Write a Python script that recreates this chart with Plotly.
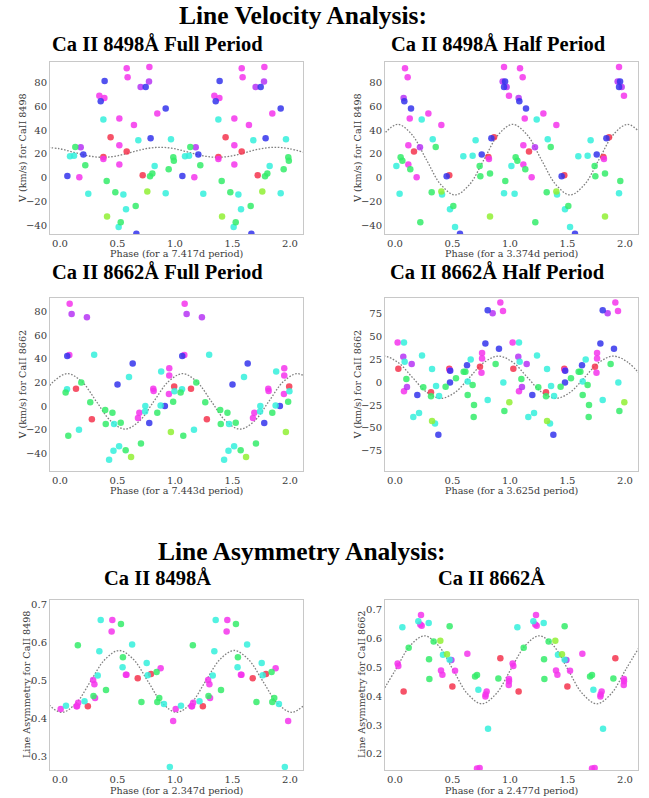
import plotly.graph_objects as go

# ---------------- data (phase in [0,1), value, colour group) ----------------
# Panel 1: Ca II 8498 velocity, full period (7.417 d)
p1_phase = [0.064, 0.087, 0.122, 0.133, 0.18, 0.168, 0.203, 0.22, 0.246, 0.342, 0.354, 0.388, 0.386,
            0.377, 0.377, 0.377, 0.406, 0.409, 0.44, 0.481, 0.516, 0.516, 0.516, 0.51, 0.528, 0.551,
            0.58, 0.588, 0.58, 0.574, 0.643, 0.658, 0.664, 0.681, 0.701, 0.745, 0.719, 0.777, 0.774,
            0.788, 0.759, 0.783, 0.803, 0.823, 0.846, 0.945, 0.919, 0.919, 0.965, 0.985, 0.99]
p1_v = [1.5, 18.1, 18.6, 25.9, 25.6, 0.5, 19.5, 10.5, -13.2, 68.8, 64.1, 81.1, 66.9,
        48.8, 17.5, 15.8, -2.6, -32.4, 34, -12.1, 49.6, 27.3, 11.1, -41.1, -37.2, -14,
        91.7, 84.2, 22, -26.3, 44.3, -23.5, -46.7, 31.5, 76.1, 76.1, 2.2, 92.8, 80.6,
        33.1, -11.5, 1.3, 3.6, 10, 53.8, 7.2, 58, -12.9, 32.3, 17.2, 14.4]
p1_c = ["B", "C", "C", "G", "P", "M", "B", "G", "C", "M", "B", "B", "M",
        "C", "R", "M", "G", "Y", "R", "G", "M", "M", "M", "C", "G", "C",
        "M", "M", "R", "C", "M", "G", "B", "C", "P", "B", "R", "M", "P",
        "B", "Y", "G", "G", "C", "M", "G", "B", "C", "C", "G", "G"]

# Panel 2: Ca II 8498 velocity, half period (3.374 d)
p2_phase = [0.012, 0.04, 0.049, 0.064, 0.087, 0.11, 0.075, 0.081, 0.116, 0.116, 0.128, 0.139, 0.133,
            0.165, 0.188, 0.217, 0.22, 0.232, 0.29, 0.319, 0.328, 0.354, 0.403, 0.409, 0.403, 0.449,
            0.472, 0.478, 0.507, 0.522, 0.565, 0.594, 0.675, 0.701, 0.736, 0.742, 0.754, 0.812, 0.817,
            0.826, 0.826, 0.838, 0.861, 0.936, 0.948, 0.957, 0.948, 0.971, 0.991, 0.948, 0.959]
p2_v = [10, -13.2, 17.2, 14.4, 91.7, 84.2, 66.9, 64.1, 27.3, 11.1, 49.6, 58, 7.2,
        22, 0.5, 25.6, -37.2, 48.8, 53.8, -12.1, 32.3, 25.9, -11.5, -14, 44.3, 1.3,
        2.2, -26.3, -23.5, -41.1, -46.7, 18.1, 18.6, 31.5, 10, 1.3, 19.5, 17.5, 15.8,
        3.6, -32.4, 33.1, 34, 80.6, 92.8, 80.6, 76.1, 76.1, 68.8, -12.9, -2.6]
p2_c = ["C", "C", "G", "G", "M", "M", "P", "B", "M", "M", "M", "B", "G",
        "R", "M", "P", "G", "C", "M", "G", "C", "G", "Y", "C", "M", "B",
        "R", "C", "G", "C", "B", "C", "C", "C", "G", "G", "B", "R", "M",
        "G", "Y", "B", "R", "P", "M", "B", "B", "P", "M", "C", "G"]

# Panel 3: Ca II 8662 velocity, full period (7.443 d)
p3_phase = [0.084, 0.101, 0.234, 0.063, 0.081, 0.297, 0.061, 0.049, 0.139, 0.185, 0.263, 0.277, 0.072,
            0.165, 0.632, 0.6, 0.5, 0.393, 0.456, 0.398, 0.47, 0.528, 0.514, 0.465, 0.427, 0.571,
            0.618, 0.704, 0.69, 0.678, 0.742, 0.74, 0.776, 0.811, 0.814, 0.88, 0.846, 0.875, 0.912,
            0.95, 0.95, 0.993, 0.947, 0.984, 0.964, 0.995]
p3_v = [86.8, 78, 75.2, 42.4, 43.3, 43.6, 14.2, 11.6, 14.7, 20.1, 3.2, -11.2, -25.1,
        -20, 36.2, 24.6, 18.4, -3.3, -5.6, -15.2, -15.2, -14.1, -34.1, -37.8, -45.4, -37.5,
        -43.2, -31.6, -5.6, -10.1, 0.0, -4.5, -14.4, 14.7, 12.8, 29.4, -5.6, 0.6, 0.0,
        32, 26, 16.5, 10.2, 3.7, -22, 12.5]
p3_c = ["M", "P", "P", "B", "M", "C", "C", "G", "R", "G", "G", "R", "G",
        "C", "B", "C", "B", "G", "G", "G", "C", "G", "C", "C", "C", "G",
        "Y", "G", "M", "M", "C", "C", "B", "M", "M", "C", "G", "C", "B",
        "M", "M", "R", "M", "G", "Y", "C"]

# Panel 4: Ca II 8662 velocity, half period (3.625 d)
p4_phase = [0.023, 0.078, 0.029, 0.072, 0.084, 0.145, 0.099, 0.104, 0.078, 0.235, 0.194, 0.246, 0.159,
            0.209, 0.322, 0.313, 0.313, 0.357, 0.383, 0.322, 0.348, 0.377, 0.44, 0.472, 0.476, 0.48,
            0.478, 0.53, 0.597, 0.612, 0.626, 0.658, 0.632, 0.675, 0.632, 0.687, 0.684, 0.739, 0.757,
            0.757, 0.752, 0.786, 0.806, 0.806, 0.849, 0.916, 0.939, 0.904, 0.875, 0.942, 0.994, 0.951]
p4_v = [43.4, 43.4, 14.7, 27.8, 22.4, 19.8, 3.5, -5.2, -10, 29.2, -14, -5.6, -38,
        -33.6, 14.4, -11, -15.4, -4.2, -15, -42.3, -45.2, -57.5, -4.9, 14.7, 13, 12.5,
        -0.2, 4.2, 11.5, 11.5, 18.4, 24.9, 0.9, -3, -14, -24.8, -38, 16.9, 31.8,
        26, 10.4, 42.3, -19.4, 78.6, 75.4, 87, 77.9, 36.5, 19.8, -0.2, -22, -31.4]
p4_c = ["M", "C", "R", "P", "C", "P", "G", "P", "M", "C", "B", "G", "C",
        "C", "C", "R", "G", "C", "C", "Y", "C", "B", "G", "R", "M", "B",
        "B", "G", "G", "G", "B", "C", "C", "G", "G", "G", "G", "R", "M",
        "M", "M", "B", "C", "B", "P", "M", "M", "B", "G", "C", "Y", "G"]

# Panel 5: Ca II 8498 line asymmetry (2.347 d)
p5_phase = [0.006, 0.052, 0.144, 0.148, 0.158, 0.155, 0.213, 0.242, 0.288, 0.299, 0.291, 0.305, 0.328,
            0.342, 0.354, 0.4, 0.455, 0.449, 0.53, 0.547, 0.544, 0.573, 0.578, 0.627, 0.676, 0.708,
            0.754, 0.763, 0.791, 0.84, 0.875, 0.863, 0.846, 0.904, 0.955, 0.984]
p5_v = [0.426, 0.434, 0.433, 0.433, 0.442, 0.594, 0.446, 0.433, 0.502, 0.491, 0.46, 0.455, 0.514,
        0.578, 0.66, 0.476, 0.66, 0.63, 0.65, 0.562, 0.536, 0.516, 0.516, 0.596, 0.507, 0.444,
        0.547, 0.515, 0.518, 0.523, 0.533, 0.455, 0.444, 0.439, 0.273, 0.394]
p5_c = ["M", "C", "M", "M", "M", "G", "C", "R", "M", "M", "G", "M", "C",
        "C", "C", "G", "M", "M", "G", "G", "C", "M", "M", "C", "R", "G",
        "C", "C", "R", "G", "M", "G", "G", "C", "C", "M"]

# Panel 6: Ca II 8662 line asymmetry (2.477 d)
p6_phase = [0.064, 0.023, 0.029, 0.075, 0.119, 0.203, 0.226, 0.22, 0.232, 0.293, 0.296, 0.299, 0.336,
            0.394, 0.417, 0.452, 0.49, 0.475, 0.475, 0.4, 0.412, 0.522, 0.499, 0.629, 0.696, 0.713,
            0.725, 0.797, 0.788, 0.786, 0.809, 0.713, 0.736, 0.899, 0.916, 0.991, 0.991, 0.989]
p6_v = [0.64, 0.514, 0.505, 0.417, 0.569, 0.661, 0.682, 0.649, 0.645, 0.655, 0.529, 0.46, 0.59,
        0.593, 0.544, 0.546, 0.526, 0.527, 0.643, 0.49, 0.475, 0.489, 0.434, 0.548, 0.469, 0.474,
        0.423, 0.417, 0.406, 0.399, 0.287, 0.149, 0.151, 0.462, 0.532, 0.46, 0.452, 0.439]
p6_c = ["C", "M", "M", "R", "G", "C", "M", "M", "M", "C", "G", "G", "G",
        "Y", "C", "Y", "P", "C", "G", "M", "M", "M", "R", "M", "G", "G",
        "C", "M", "M", "M", "C", "M", "M", "G", "R", "M", "M", "M"]

# Dotted fit curves (values at regular phase steps)
c1_x = [-0.13, -0.005, 0.12, 0.245, 0.37, 0.495, 0.62, 0.745, 0.87, 0.995, 1.12, 1.245, 1.37,
        1.495, 1.62, 1.745, 1.87, 1.995, 2.12]
c1_y = [25.6, 24.4, 21.4, 18.4, 17.2, 18.4, 21.4, 24.4, 25.6, 24.4, 21.4, 18.4, 17.2,
        18.4, 21.4, 24.4, 25.6, 24.4, 21.4]
c2_x = [-0.102, 0.023, 0.148, 0.273, 0.398, 0.523, 0.648, 0.773, 0.898, 1.023, 1.148, 1.273, 1.398,
        1.523, 1.648, 1.773, 1.898, 2.023, 2.148]
c2_y = [36.1, 44.8, 36.1, 15.2, -5.6, -14.3, -5.6, 15.2, 36.1, 44.8, 36.1, 15.2, -5.6,
        -14.3, -5.6, 15.2, 36.1, 44.8, 36.1]
c3_x = [-0.184, -0.059, 0.066, 0.191, 0.316, 0.441, 0.566, 0.691, 0.816, 0.941, 1.066, 1.191, 1.316,
        1.441, 1.566, 1.691, 1.816, 1.941, 2.066, 2.191]
c3_y = [4.0, 20.6, 27.5, 20.6, 4.0, -12.6, -19.5, -12.6, 4.0, 20.6, 27.5, 20.6, 4.0,
        -12.6, -19.5, -12.6, 4.0, 20.6, 27.5, 20.6]
c4_x = [-0.225, -0.1, 0.025, 0.15, 0.275, 0.4, 0.525, 0.65, 0.775, 0.9, 1.025, 1.15, 1.275,
        1.4, 1.525, 1.65, 1.775, 1.9, 2.025, 2.15]
c4_y = [21.75, 28.5, 21.75, 5.45, -10.85, -17.6, -10.85, 5.45, 21.75, 28.5, 21.75, 5.45, -10.85,
        -17.6, -10.85, 5.45, 21.75, 28.5, 21.75, 5.45]
c5_x = [-0.235, -0.11, 0.015, 0.14, 0.265, 0.39, 0.515, 0.64, 0.765, 0.89, 1.015, 1.14, 1.265,
        1.39, 1.515, 1.64, 1.765, 1.89, 2.015, 2.14]
c5_y = [0.4985, 0.441, 0.417, 0.441, 0.4985, 0.556, 0.58, 0.556, 0.4985, 0.441, 0.417, 0.441, 0.4985,
        0.556, 0.58, 0.556, 0.4985, 0.441, 0.417, 0.441]
c6_x = [-0.12, 0.005, 0.13, 0.255, 0.38, 0.505, 0.63, 0.755, 0.88, 1.005, 1.13, 1.255, 1.38,
        1.505, 1.63, 1.755, 1.88, 2.005, 2.13]
c6_y = [0.409, 0.492, 0.575, 0.61, 0.575, 0.492, 0.409, 0.374, 0.409, 0.492, 0.575, 0.61, 0.575,
        0.492, 0.409, 0.374, 0.409, 0.492, 0.575]

x_titles = ["Phase (for a 7.417d period)", "Phase (for a 3.374d period)",
            "Phase (for a 7.443d period)", "Phase (for a 3.625d period)",
            "Phase (for a 2.347d period)", "Phase (for a 2.477d period)"]
y_titles = ["V (km/s) for CaII 8498", "V (km/s) for CaII 8498",
            "V (km/s) for CaII 8662", "V (km/s) for CaII 8662",
            "Line Asymmetry for CaII 8498", "Line Asymmetry for CaII 8662"]
sub_titles = ["Ca II 8498Å Full Period", "Ca II 8498Å Half Period",
              "Ca II 8662Å Full Period", "Ca II 8662Å Half Period",
              "Ca II 8498Å", "Ca II 8662Å"]
main_titles = ["Line Velocity Analysis:", "Line Asymmetry Analysis:"]
x_ticks = [0.0, 0.5, 1.0, 1.5, 2.0]

# ---------------- styling / layout ----------------
W, H = 649, 798
COLORS = {"B": "#3434ec", "C": "#34f0dc", "G": "#34ec6a", "M": "#f434ec",
          "P": "#b634f4", "R": "#f4344e", "Y": "#90f034"}
SERIF = "DejaVu Serif"
TITLE_FONT = "Liberation Serif"

# pixel boxes: (left, right, top, bottom)
boxes = [(50, 303, 62, 234), (385, 638, 62, 234),
         (50, 303, 298, 471), (385, 638, 298, 471),
         (50, 303, 600, 770), (385, 638, 600, 770)]
y_ranges = [[-47, 97], [-47, 97], [-55, 91.6], [-97, 92], [0.265, 0.713], [0.144, 0.7345]]
y_dticks = [20, 20, 20, 25, 0.1, 0.1]
y_formats = ["d", "d", "d", "d", ".1f", ".1f"]
ylab_x = [22, 357, 22, 357, 26, 361]
xlab_y = [253, 253, 490, 490, 790, 790]
sub_pos = [(157, 44), (498, 44), (157, 272), (497, 272), (157, 578), (491, 578)]
main_pos = [(303, 15), (302, 551)]

panels = [(p1_phase, p1_v, p1_c, c1_x, c1_y), (p2_phase, p2_v, p2_c, c2_x, c2_y),
          (p3_phase, p3_v, p3_c, c3_x, c3_y), (p4_phase, p4_v, p4_c, c4_x, c4_y),
          (p5_phase, p5_v, p5_c, c5_x, c5_y), (p6_phase, p6_v, p6_c, c6_x, c6_y)]

fig = go.Figure()
annotations = []
layout = {}
for i, (ph, vals, cols, cx, cy) in enumerate(panels):
    n = "" if i == 0 else str(i + 1)
    xa, ya = "x" + n, "y" + n
    # dotted fit
    fig.add_trace(go.Scatter(x=cx, y=cy, mode="lines",
                             line=dict(color="#808080", width=1.3, dash="1.6px,1.6px",
                                       shape="spline", smoothing=1.0),
                             xaxis=xa, yaxis=ya, hoverinfo="skip", showlegend=False))
    # points, repeated over two cycles
    for key in ["R", "M", "P", "B", "C", "G", "Y"]:
        xs = [p for p, c in zip(ph, cols) if c == key]
        ys = [v for v, c in zip(vals, cols) if c == key]
        if not xs:
            continue
        fig.add_trace(go.Scatter(x=xs + [p + 1 for p in xs], y=ys + ys, mode="markers",
                                 marker=dict(color=COLORS[key], size=6.5, opacity=0.85, line=dict(width=0)),
                                 xaxis=xa, yaxis=ya, showlegend=False))
    l, r, t, b = boxes[i]
    common = dict(showline=True, mirror=True, linecolor="#c8c8c8", linewidth=1, showgrid=False,
                  zeroline=False, ticks="", tickfont=dict(family=SERIF, size=10, color="#3a3a3a"))
    layout["xaxis" + n] = dict(domain=[l / W, r / W], range=[-0.087, 2.113], anchor=ya,
                               tickvals=x_ticks, tickformat=".1f", **common)
    layout["yaxis" + n] = dict(domain=[1 - b / H, 1 - t / H], range=y_ranges[i], anchor=xa,
                               dtick=y_dticks[i], tickformat=y_formats[i], **common)
    annotations.append(dict(text=y_titles[i], x=ylab_x[i] / W, y=1 - (t + b) / 2 / H, xref="paper",
                            yref="paper", textangle=-90, showarrow=False, xanchor="center", yanchor="middle",
                            font=dict(family=SERIF, size=9.6, color="#3a3a3a")))
    annotations.append(dict(text=x_titles[i], x=(l + r) / 2 / W, y=1 - xlab_y[i] / H, xref="paper",
                            yref="paper", showarrow=False, xanchor="center", yanchor="middle",
                            font=dict(family=SERIF, size=9.6, color="#3a3a3a")))
    sx, sy = sub_pos[i]
    annotations.append(dict(text="<b>" + sub_titles[i] + "</b>", x=sx / W, y=1 - sy / H, xref="paper",
                            yref="paper", showarrow=False, xanchor="center", yanchor="middle",
                            font=dict(family=TITLE_FONT, size=20.5, color="#000000")))
for (mx, my), txt in zip(main_pos, main_titles):
    annotations.append(dict(text="<b>" + txt + "</b>", x=mx / W, y=1 - my / H, xref="paper", yref="paper",
                            showarrow=False, xanchor="center", yanchor="middle",
                            font=dict(family=TITLE_FONT, size=25.5, color="#000000")))

fig.update_layout(width=W, height=H, margin=dict(l=0, r=0, t=0, b=0), paper_bgcolor="white",
                  plot_bgcolor="white", showlegend=False, annotations=annotations, **layout)
fig.write_html("out.html")
